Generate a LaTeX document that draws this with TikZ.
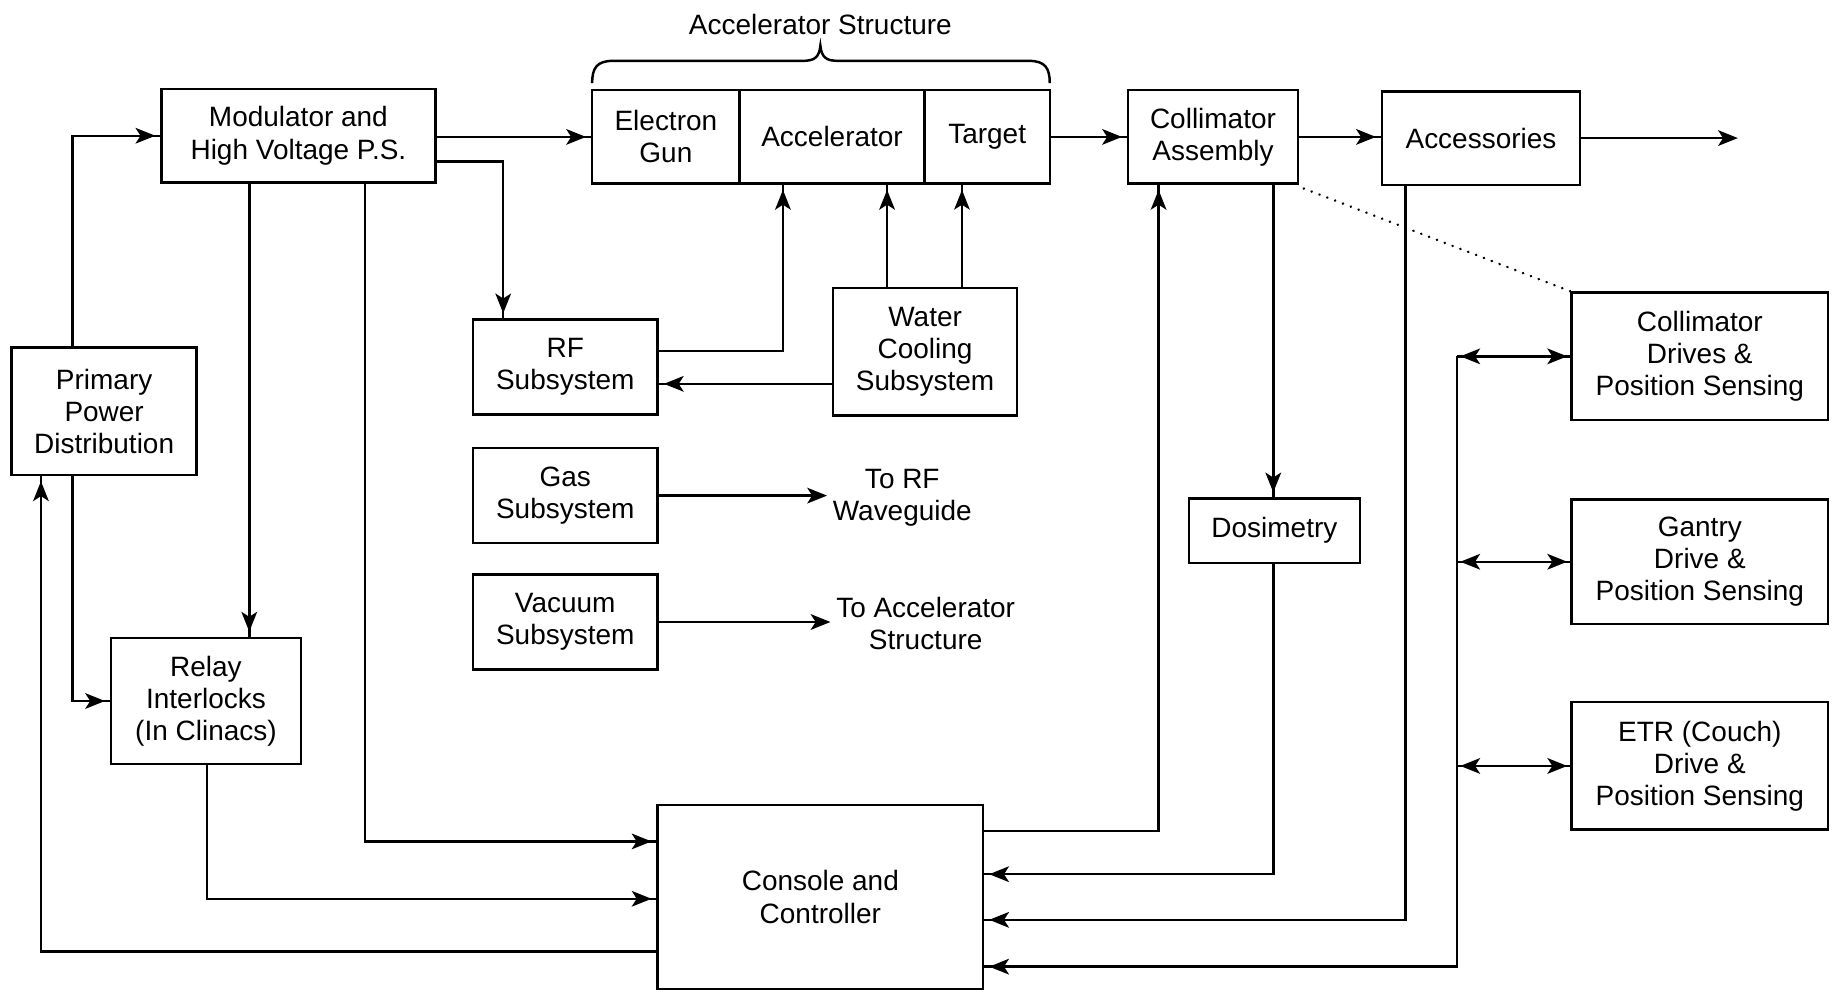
\documentclass[tikz,border=0pt]{standalone}
\usepackage{fontspec}
\setmainfont{Liberation Sans}
\usetikzlibrary{arrows.meta}
\newlength\pxu
\setlength\pxu{0.025cm}
\begin{document}
\begin{tikzpicture}[x=0.025cm, y=-0.025cm,
  font=\fontsize{17}{19.5}\selectfont,
  blk/.style 2 args={draw, line width=1.5pt, minimum width=#1\pxu, minimum height=#2\pxu, inner sep=0pt, align=center},
  lbl/.style={align=center},
  ln/.style={line width=1.5pt},
  thinln/.style={line width=0.9pt},
  tip/.style={-{Stealth[length=12pt,width=9.5pt,inset=3pt]}},
  arr/.style={postaction={draw, tip, shorten >=3pt}},
  biarr/.style={postaction={draw, {Stealth[length=12pt,width=9.5pt,inset=3pt]}-{Stealth[length=12pt,width=9.5pt,inset=3pt]}, shorten >=2pt, shorten <=2pt}},
  dots/.style={line width=1.6pt, line cap=round, dash pattern=on 0.1pt off 5pt}
]
\useasboundingbox (0,0) rectangle (1568,847);

% blocks
\node[blk={234}{80}] (mod) at (255,116) {Modulator and\\High Voltage P.S.};
\node[blk={158}{109}] (ppd) at (89,351.5) {Primary\\Power\\Distribution};
\node[blk={162}{108}] (relay) at (176,599) {Relay\\Interlocks\\(In Clinacs)};
\node[blk={126}{80}] (egun) at (569,117) {Electron\\Gun};
\node[blk={158}{80}] (accel) at (711,117) {Accelerator};
\node[blk={107}{80}] (target) at (843.5,117) {Target\vphantom{A}};
\node[blk={145}{80}] (coll) at (1036.5,117) {Collimator\\Assembly};
\node[blk={169}{80}] (acc) at (1265.5,118) {Accessories};
\node[blk={158}{81}] (rf) at (483,313.5) {RF\\Subsystem};
\node[blk={157}{109}] (water) at (790.5,300.5) {Water\\Cooling\\Subsystem};
\node[blk={158}{81}] (gas) at (483,423.5) {Gas\\Subsystem};
\node[blk={158}{81}] (vac) at (483,531.5) {Vacuum\\Subsystem};
\node[lbl] (torf) at (771,425) {To RF\\Waveguide};
\node[lbl] (toacc) at (791,533) {To Accelerator\\Structure};
\node[blk={146}{55}] (dos) at (1089,453.5) {Dosimetry};
\node[blk={219}{109}] (cdrv) at (1452.5,304.5) {Collimator\\Drives \&\\Position Sensing};
\node[blk={219}{106}] (gdrv) at (1452.5,480) {Gantry\\Drive \&\\Position Sensing};
\node[blk={219}{109}] (edrv) at (1452.5,654.5) {ETR (Couch)\\Drive \&\\Position Sensing};
\node[blk={278}{157}] (cons) at (701,766.5) {Console and\\Controller};

% accelerator structure brace and title
\node (astitle) at (701,21) {Accelerator Structure};
\draw[ln] (506,71) .. controls (506,58) and (510,52) .. (524,52) -- (686,52)
  .. controls (696,52) and (700,49) .. (701,39)
  .. controls (702,49) and (706,52) .. (716,52) -- (879,52)
  .. controls (893,52) and (897,58) .. (897,71);

% connectors
\draw[ln, arr] (ppd.north -| 62,0) |- (mod.west);
\draw[ln, arr] (mod.east |- egun.west) -- (egun.west);
\draw[ln, arr] (mod.east |- 0,138) -| (rf.north -| 430,0);
\draw[ln, arr] (mod.south -| 213,0) -- (relay.north -| 213,0);
\draw[ln, arr] (mod.south -| 312,0) |- (cons.west |- 0,719);
\draw[ln, arr] (ppd.south -| 62,0) |- (relay.west);
\draw[ln, arr] (relay.south -| 177,0) |- (cons.west |- 0,768);
\draw[ln, arr] (cons.west |- 0,813) -| (ppd.south -| 35,0);

\draw[ln, arr] (rf.east |- 0,300) -| (accel.south -| 669,0);
\draw[ln, arr] (water.north -| 758,0) -- (accel.south -| 758,0);
\draw[thinln, arr] (water.north -| 822,0) -- (target.south -| 822,0);
\draw[ln, arr] (water.west |- 0,328) -- (rf.east |- 0,328);

\draw[ln, tip] (gas.east) -- (gas.east -| torf.west);
\draw[ln, tip] (vac.east) -- (vac.east -| toacc.west);

\draw[ln, arr] (target.east) -- (coll.west);
\draw[ln, arr] (coll.east) -- (coll.east -| acc.west);
\coordinate (beamout) at (1485,118);
\draw[ln, tip] (acc.east) -- (beamout);

\draw[ln, arr] (cons.east |- 0,710) -| (coll.south -| 990,0);
\draw[ln, arr] (coll.south -| 1088,0) -- (dos.north -| 1088,0);
\draw[ln, arr] (dos.south -| 1088,0) |- (cons.east |- 0,747);
\draw[ln, arr] (acc.south -| 1201,0) |- (cons.east |- 0,786);
\draw[ln, arr] (cdrv.west -| 1245,0) |- (cons.east |- 0,826);

\draw[ln, biarr] (cdrv.west -| 1245,0) -- (cdrv.west);
\draw[ln, biarr] (gdrv.west -| 1245,0) -- (gdrv.west);
\draw[ln, biarr] (edrv.west -| 1245,0) -- (edrv.west);

\draw[dots] (coll.south east) ++(4,3) -- (cdrv.north west);
\end{tikzpicture}
\end{document}
